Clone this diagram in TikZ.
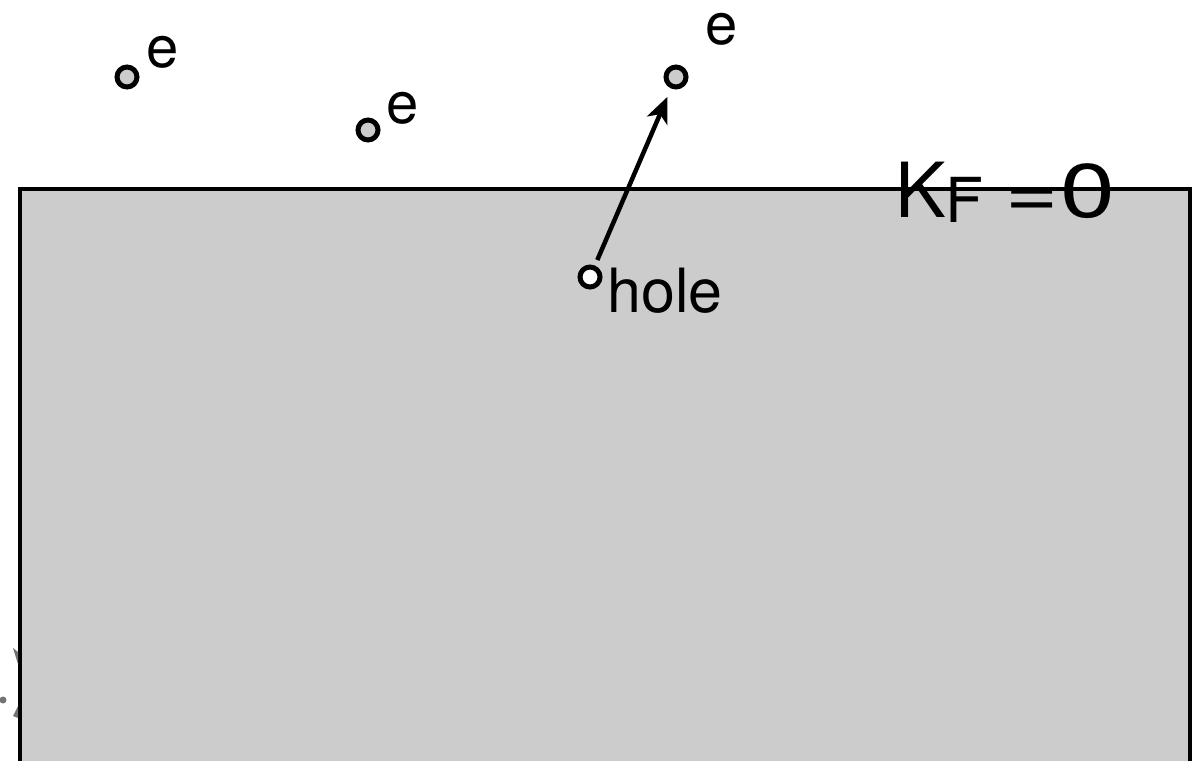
\documentclass[tikz,border=0pt]{standalone}
\usepackage{fontspec}
\setmainfont{TeX Gyre Heros}
\usetikzlibrary{arrows.meta}
\begin{document}
\begin{tikzpicture}[x=1pt,y=-1pt,
  particle/.style={circle,draw=black,line width=5pt,fill=black!20,minimum size=20pt,inner sep=0pt},
  holep/.style={particle,fill=white},
  elabel/.style={inner sep=0pt,font=\fontsize{58}{58}\selectfont},
  hlabel/.style={inner sep=0pt,anchor=base west,font=\fontsize{61}{61}\selectfont},
  jump/.style={line width=4.5pt,-{Stealth[length=26pt,width=22pt,inset=7pt]}}]
\useasboundingbox (0,0) rectangle (1196,760);
% filled band
\draw[line width=4pt,fill=black!20] (20,800) -- (20,189) -- (1190,189) -- (1190,800);
% faint cropped marks at the left
\fill[black!55] (3,700) circle (3.5);
\fill[black!55] (13,648) -- (18,652) -- (18,664) -- cycle;
\fill[black!55] (13,716) -- (18,706) -- (18,718) -- cycle;
% electrons
\node[particle] (e1) at (127,77) {};
\node[elabel] (t1) at (163,52) {e};
\node[particle] (e2) at (368,130) {};
\node[elabel] (t2) at (403,108) {e};
\node[particle] (e3) at (676,77) {};
\node[elabel] (t3) at (722,29) {e};
% hole
\node[holep] (h) at (590,277) {};
\node[hlabel] (th) at (607,312) {hole};
\draw[jump,shorten <=6pt,shorten >=9pt] (h) -- (e3);
% Fermi momentum label
\node[inner sep=0pt,anchor=base west,font=\fontsize{76}{76}\selectfont] (kf) at (895,217) {K\raisebox{-5pt}{\fontsize{62}{62}\selectfont F}\hspace{22pt}\scalebox{1.2}[1]{=}\hspace{1pt}\scalebox{1.3}[1]{0}};
\end{tikzpicture}
\end{document}
